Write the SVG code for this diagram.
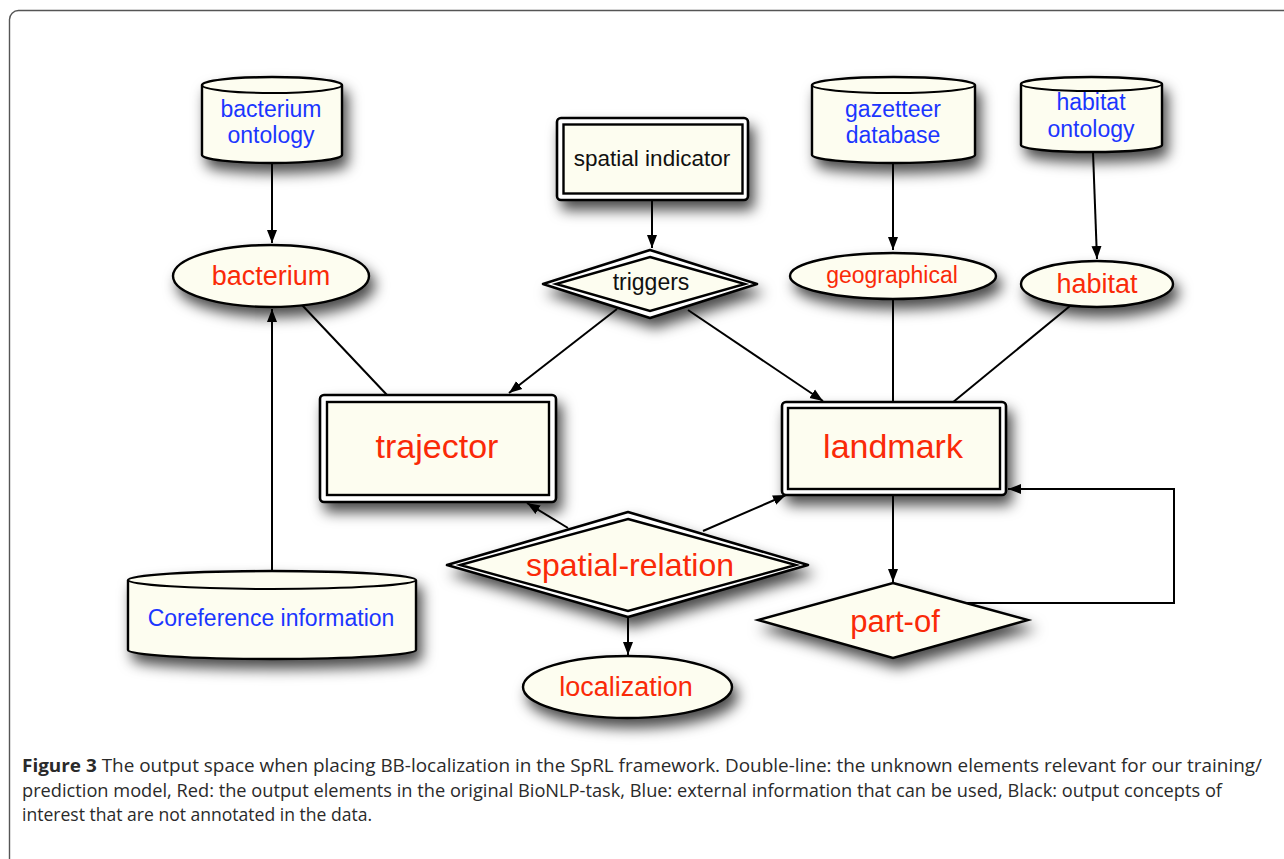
<svg xmlns="http://www.w3.org/2000/svg" width="1284" height="859" viewBox="0 0 1284 859">
<defs>
<filter id="sh" x="-30%" y="-30%" width="170%" height="190%">
<feDropShadow dx="5" dy="9" stdDeviation="7" flood-color="#000" flood-opacity="0.7"/>
</filter>
<marker id="ah" markerUnits="userSpaceOnUse" markerWidth="14" markerHeight="12" viewBox="0 0 14 12" refX="13" refY="6" orient="auto">
<path d="M0,1 L13,6 L0,11 Z" fill="#000"/>
</marker>
<style>
.f{fill:#fdfdf0;stroke:#000;stroke-width:2.4}
.w{fill:#fff;stroke:#000;stroke-width:2.6}
.e{fill:none;stroke:#000;stroke-width:2}
.c{fill:none;stroke:#000;stroke-width:2}
.t{font-family:"Liberation Sans",Arial,sans-serif;text-anchor:middle}
.red{fill:#fa2a08}
.blue{fill:#1b36ff}
.blk{fill:#111}
.cap{font-family:"Open Sans","Liberation Sans",sans-serif;font-size:17.5px;fill:#2a2a2a}
</style>
</defs>
<rect x="9.5" y="10.5" width="1320" height="900" rx="9" fill="#fff" stroke="#555" stroke-width="1.4"/>

<g id="connectors">
<line class="c" x1="272" y1="163" x2="272" y2="243" marker-end="url(#ah)"/>
<line class="c" x1="272" y1="571" x2="272" y2="309" marker-end="url(#ah)"/>
<line class="c" x1="302" y1="305" x2="387" y2="395"/>
<line class="c" x1="652" y1="200" x2="652" y2="248" marker-end="url(#ah)"/>
<line class="c" x1="617" y1="309" x2="509" y2="393" marker-end="url(#ah)"/>
<line class="c" x1="688" y1="310" x2="823" y2="401" marker-end="url(#ah)"/>
<line class="c" x1="893" y1="163" x2="893" y2="250" marker-end="url(#ah)"/>
<line class="c" x1="1093" y1="152" x2="1097" y2="259" marker-end="url(#ah)"/>
<line class="c" x1="893" y1="299" x2="893" y2="402"/>
<line class="c" x1="1070" y1="306" x2="952" y2="403"/>
<line class="c" x1="568" y1="528" x2="527" y2="503" marker-end="url(#ah)"/>
<line class="c" x1="703" y1="531" x2="786" y2="495" marker-end="url(#ah)"/>
<line class="c" x1="628" y1="617" x2="628" y2="655" marker-end="url(#ah)"/>
<line class="c" x1="893" y1="495" x2="893" y2="582" marker-end="url(#ah)"/>
<polyline class="c" points="967,603 1174,603 1174,489 1008,489" marker-end="url(#ah)"/>
</g>

<g id="bacterium-ontology">
<path class="f" filter="url(#sh)" d="M202,85 A70,8 0 0 1 342,85 L342,155 A70,8 0 0 1 202,155 Z"/>
<path class="e" d="M202,85 A70,8 0 0 0 342,85"/>
<text class="t blue" x="271" y="117" font-size="23">bacterium</text>
<text class="t blue" x="271" y="143" font-size="23">ontology</text>
</g>

<g id="gazetteer-database">
<path class="f" filter="url(#sh)" d="M812,85 A81.5,8 0 0 1 975,85 L975,155 A81.5,8 0 0 1 812,155 Z"/>
<path class="e" d="M812,85 A81.5,8 0 0 0 975,85"/>
<text class="t blue" x="893" y="117" font-size="23">gazetteer</text>
<text class="t blue" x="893" y="143" font-size="23">database</text>
</g>

<g id="habitat-ontology">
<path class="f" filter="url(#sh)" d="M1021,84 A70.5,7 0 0 1 1162,84 L1162,145 A70.5,7 0 0 1 1021,145 Z"/>
<path class="e" d="M1021,84 A70.5,7 0 0 0 1162,84"/>
<text class="t blue" x="1091" y="110" font-size="23">habitat</text>
<text class="t blue" x="1091" y="137" font-size="23">ontology</text>
</g>

<g id="coreference-information">
<path class="f" filter="url(#sh)" d="M128,580 A144,9 0 0 1 416,580 L416,650 A144,9 0 0 1 128,650 Z"/>
<path class="e" d="M128,580 A144,9 0 0 0 416,580"/>
<text class="t blue" x="271" y="626" font-size="23">Coreference information</text>
</g>

<g id="spatial-indicator">
<rect class="w" filter="url(#sh)" x="557" y="118" width="191" height="82" rx="4"/>
<rect class="f" x="563.5" y="124.5" width="179" height="69"/>
<text class="t blk" x="652" y="166" font-size="22.5">spatial indicator</text>
</g>

<g id="triggers">
<polygon class="w" filter="url(#sh)" points="650,250 757,284 650,318 543,284" stroke-linejoin="round"/>
<polygon class="f" points="650,257 745,284 650,311 556,284"/>
<text class="t blk" x="651" y="290" font-size="23">triggers</text>
</g>

<g id="bacterium">
<ellipse class="f" filter="url(#sh)" cx="271" cy="276" rx="98" ry="31"/>
<text class="t red" x="271" y="285" font-size="27">bacterium</text>
</g>

<g id="geographical">
<ellipse class="f" filter="url(#sh)" cx="893" cy="276" rx="103" ry="23"/>
<text class="t red" x="892" y="283" font-size="23">geographical</text>
</g>

<g id="habitat">
<ellipse class="f" filter="url(#sh)" cx="1097" cy="284" rx="76" ry="23"/>
<text class="t red" x="1097" y="293" font-size="27">habitat</text>
</g>

<g id="trajector">
<rect class="w" filter="url(#sh)" x="320" y="395" width="236" height="107" rx="4"/>
<rect class="f" x="327" y="402" width="222" height="93"/>
<text class="t red" x="437" y="458" font-size="34">trajector</text>
</g>

<g id="landmark">
<rect class="w" filter="url(#sh)" x="782" y="402" width="224" height="93" rx="4"/>
<rect class="f" x="788" y="408" width="212" height="81"/>
<text class="t red" x="893" y="458" font-size="34">landmark</text>
</g>

<g id="spatial-relation">
<polygon class="w" filter="url(#sh)" points="628,512 808,565 628,617 447,565" stroke-linejoin="round"/>
<polygon class="f" points="628,519 796,565 628,611 460,565"/>
<text class="t red" x="630" y="576" font-size="32">spatial-relation</text>
</g>

<g id="localization">
<ellipse class="f" filter="url(#sh)" cx="627.5" cy="687" rx="104.5" ry="31"/>
<text class="t red" x="626" y="696" font-size="27">localization</text>
</g>

<g id="part-of">
<polygon class="f" filter="url(#sh)" points="893,583 1028,620 893,658 758,620"/>
<text class="t red" x="895" y="632" font-size="31">part-of</text>
</g>

<g id="caption">
<text class="cap" x="22" y="772" textLength="1240" lengthAdjust="spacingAndGlyphs"><tspan font-weight="bold">Figure 3</tspan>  The output space when placing BB-localization in the SpRL framework. Double-line: the unknown elements relevant for our training/</text>
<text class="cap" x="22" y="797" textLength="1200" lengthAdjust="spacingAndGlyphs">prediction model, Red: the output elements in the original BioNLP-task, Blue: external information that can be used, Black: output concepts of</text>
<text class="cap" x="22" y="821" textLength="350" lengthAdjust="spacingAndGlyphs">interest that are not annotated in the data.</text>
</g>
</svg>
